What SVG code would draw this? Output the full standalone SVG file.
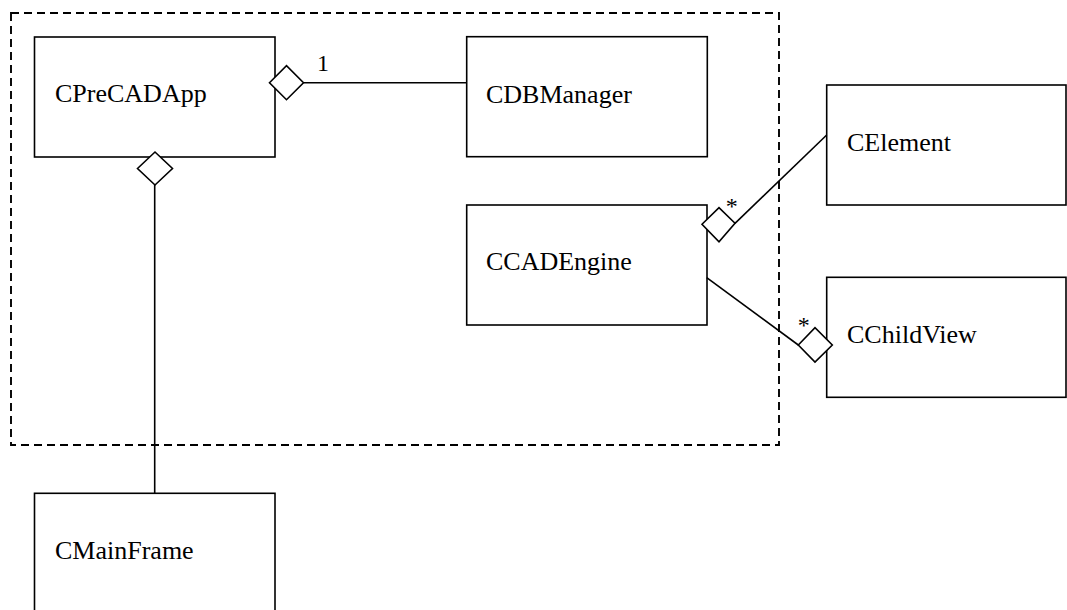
<svg xmlns="http://www.w3.org/2000/svg" width="1067" height="610" viewBox="0 0 1067 610">
  <style>
    .box { fill: #ffffff; stroke: #000000; stroke-width: 1.6; }
    .label { font-family: "Liberation Serif", "Times New Roman", serif; font-size: 26px; fill: #000000; }
    .mult { font-family: "Liberation Serif", "Times New Roman", serif; font-size: 24px; fill: #000000; }
    .link { fill: none; stroke: #000000; stroke-width: 1.6; }
    .diamond { fill: #ffffff; stroke: #000000; stroke-width: 1.6; stroke-linejoin: miter; }
    .frame { fill: none; stroke: #000000; stroke-width: 1.9; stroke-dasharray: 8 5; }
  </style>
  <rect width="1067" height="610" fill="#ffffff"/>

  <!-- package boundary -->
  <rect id="boundary" class="frame" x="11" y="13" width="768" height="432"/>

  <!-- classes -->
  <g id="CPreCADApp">
    <rect class="box" x="34.5" y="37" width="240.5" height="120"/>
    <text class="label" x="55" y="102">CPreCADApp</text>
  </g>
  <g id="CDBManager">
    <rect class="box" x="466.7" y="36.7" width="240.6" height="120"/>
    <text class="label" x="486" y="103">CDBManager</text>
  </g>
  <g id="CCADEngine">
    <rect class="box" x="466.7" y="205" width="240.3" height="120"/>
    <text class="label" x="486" y="270">CCADEngine</text>
  </g>
  <g id="CElement">
    <rect class="box" x="826.7" y="85" width="239.3" height="120"/>
    <text class="label" x="847" y="151">CElement</text>
  </g>
  <g id="CChildView">
    <rect class="box" x="826.7" y="277.3" width="239.3" height="120"/>
    <text class="label" x="847" y="343">CChildView</text>
  </g>
  <g id="CMainFrame">
    <rect class="box" x="34.5" y="493.3" width="240.5" height="120"/>
    <text class="label" x="55" y="559">CMainFrame</text>
  </g>

  <!-- aggregation connectors -->
  <g id="connectors">
    <line class="link" x1="303.5" y1="82.7" x2="466.7" y2="82.7"/>
    <polygon class="diamond" points="269.5,82.7 286.5,65.7 303.5,82.7 286.5,99.7"/>
    <text class="mult" x="317" y="71">1</text>

    <line class="link" x1="154.7" y1="185" x2="154.7" y2="493.3"/>
    <polygon class="diamond" points="137.5,168.5 155,152 172.5,168.5 155,185"/>

    <line class="link" x1="735" y1="223.3" x2="826.7" y2="135"/>
    <polygon class="diamond" points="702,224.3 719,207.7 735,223.3 719,241.7"/>
    <text class="mult" x="725.7" y="214">*</text>

    <line class="link" x1="706.7" y1="277.7" x2="798.3" y2="345"/>
    <polygon class="diamond" points="798.3,345 815,327.7 832.3,345 815,362"/>
    <text class="mult" x="797.7" y="333">*</text>
  </g>
</svg>
